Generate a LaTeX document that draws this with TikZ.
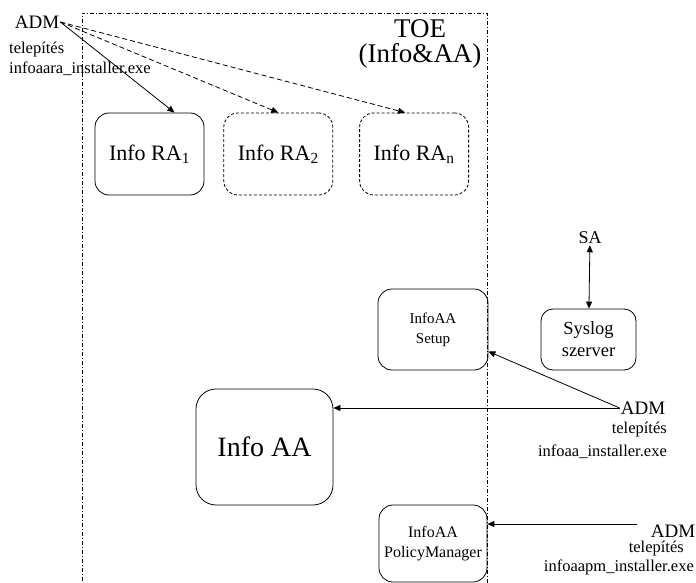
\documentclass[tikz,border=0pt]{standalone}
\usepackage{fontspec}
\setmainfont{Liberation Serif}
\usetikzlibrary{positioning,arrows.meta}

\begin{document}
\begin{tikzpicture}[x=1pt, y=-1pt,
    box/.style={draw, rounded corners=14pt, line width=0.8pt, align=center, inner sep=0pt},
    dbox/.style={box, dash pattern=on 3pt off 2pt},
    conn/.style={line width=0.8pt, -{Triangle[length=7pt,width=6pt]}},
    dconn/.style={conn, dash pattern=on 5pt off 3pt},
    lbl/.style={inner sep=1pt, font=\fontsize{19}{21}\selectfont},
    note/.style={inner sep=0pt, font=\fontsize{16.5}{20}\selectfont}]
  \useasboundingbox (0,0) rectangle (696,583);
  \draw[line width=0.7pt, dash pattern=on 4pt off 2pt on 1pt off 2pt] (82,590) -- (82,13) -- (487,13) -- (487,590);
  \node[align=center, font=\fontsize{27}{25}\selectfont] (toe) at (420,44) {TOE\\(Info\&AA)};

  \node[box, minimum width=109pt, minimum height=82pt, font=\fontsize{22}{24}\selectfont] (ra1) at (149.5,154) {Info RA\textsubscript{1}};
  \node[dbox, minimum width=109pt, minimum height=82pt, font=\fontsize{22}{24}\selectfont, right=19pt of ra1] (ra2) {Info RA\textsubscript{2}};
  \node[dbox, minimum width=109pt, minimum height=82pt, font=\fontsize{22}{24}\selectfont, right=26pt of ra2] (ran) {Info RA\textsubscript{n}};
  \node[box, rounded corners=20pt, minimum width=137pt, minimum height=116pt, font=\fontsize{28}{30}\selectfont] (aa) at (264.5,447) {Info AA};
  \node[box, minimum width=110pt, minimum height=81pt, font=\fontsize{15}{20}\selectfont] (setup) at (433,329.5) {InfoAA\\Setup};
  \node[box, minimum width=108pt, minimum height=77pt, font=\fontsize{16}{20}\selectfont] (pm) at (433,543.5) {InfoAA\\PolicyManager};
  \node[box, rounded corners=12pt, minimum width=95pt, minimum height=61pt, font=\fontsize{18.5}{22}\selectfont] (sys) at (588.5,339.5) {Syslog\\szerver};
  \node[lbl, font=\fontsize{18}{20}\selectfont] (sa) at (590,238) {SA};

  \node[lbl] (adm1) at (37,22) {ADM};
  \node[note, align=left, anchor=north west] (tel1) at (9,42) {telepítés\\infoaara\_installer.exe};
  \node[lbl] (adm2) at (643,408) {ADM};
  \node[note, align=right, anchor=north east, font=\fontsize{16.5}{23}\selectfont] (tel2) at (667,422) {telepítés\\infoaa\_installer.exe};
  \node[lbl] (adm3) at (673,531) {ADM};
  \node[note, anchor=east] (tel3) at (684,549) {telepítés};
  \node[note, anchor=east] (inst3) at (694,567) {infoaapm\_installer.exe};
  \coordinate (pmsrc) at (637,524);

  \draw[conn] (adm1.east) -- ([xshift=25pt]ra1.north);
  \draw[dconn] (adm1.east) -- (ra2.north);
  \draw[dconn] (adm1.east) -- ([xshift=-9pt]ran.north);
  \draw[line width=0.8pt, {Triangle[length=7pt,width=6pt]}-{Triangle[length=7pt,width=6pt]}] (sa) -- (sys);
  \draw[conn] (adm2.west) -- ([yshift=-22pt]setup.east);
  \draw[conn] (adm2.west) -- (adm2.west -| aa.east);
  \draw[conn] (pmsrc) -- (pmsrc -| pm.east);
\end{tikzpicture}
\end{document}
